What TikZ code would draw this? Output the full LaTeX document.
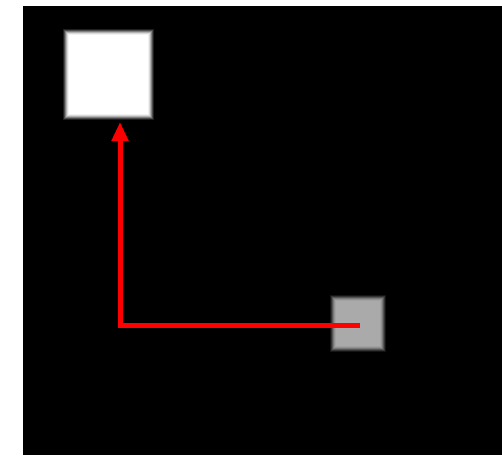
\documentclass[tikz,border=0pt]{standalone}
\usetikzlibrary{arrows.meta}
\definecolor{boxgray}{RGB}{170,170,170}
\begin{document}
\begin{tikzpicture}[x=1pt,y=-1pt,
  redline/.style={draw=red,line width=5pt,-{Triangle[length=19pt,width=16pt]}}]
\useasboundingbox (0,0) rectangle (502,455);
\fill[white] (0,0) rectangle (502,455);
\fill[black] (23,6) rectangle (502,455);
% blurred white square
\foreach \i/\c in {0/12,1/30,2/50,3/70,4/85,5/95,6/100}{
  \fill[white!\c!black] (63+\i,29+\i) rectangle (154-\i,120-\i);
}
\node[inner sep=0pt,minimum width=80pt,minimum height=80pt] (target) at (108.5,74.5) {};
% blurred gray square
\foreach \i/\c in {0/12,1/30,2/50,3/70,4/85,5/95,6/100}{
  \fill[boxgray!\c!black] (330+\i,295+\i) rectangle (386-\i,352-\i);
}
\node[inner sep=0pt,minimum width=44pt,minimum height=45pt] (source) at (358,323.5) {};
\coordinate (start) at (360,325);
\coordinate (tip) at (120,122);
\draw[redline] (start) -| (tip);
\end{tikzpicture}
\end{document}
